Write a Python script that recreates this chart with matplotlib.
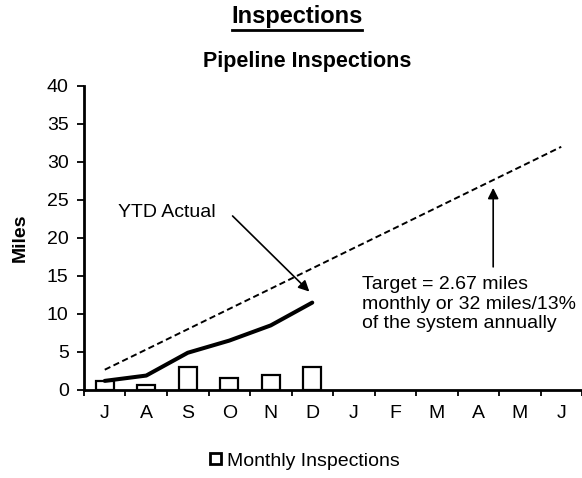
import matplotlib.pyplot as plt
import numpy as np

plt.rcParams['font.family'] = ['Liberation Sans', 'DejaVu Sans']

# data
months = ['J', 'A', 'S', 'O', 'N', 'D', 'J', 'F', 'M', 'A', 'M', 'J']
monthly = [1.2, 0.7, 3.0, 1.6, 2.0, 3.0]
ytd_actual = [1.2, 1.9, 4.9, 6.5, 8.5, 11.5]
target = [2.67, 5.33, 8.0, 10.67, 13.33, 16.0, 18.67, 21.33, 24.0, 26.67, 29.33, 32.0]

fig = plt.figure(figsize=(5.82, 4.78), dpi=100)
ax = fig.add_axes([84 / 582, 88 / 478, 498 / 582, 304 / 478])

x = np.arange(len(months))
ax.bar(x[:len(monthly)], monthly, width=0.43, color='white', edgecolor='black',
       linewidth=1.6, label='Monthly Inspections', zorder=2)
ax.plot(x[:len(ytd_actual)], ytd_actual, color='black', linewidth=2.9,
        solid_capstyle='round', zorder=3)
ax.plot(x, target, color='black', linewidth=1.4, linestyle=(0, (3.2, 1.8)), zorder=3)

ax.set_xlim(-0.5, 11.5)
ax.set_ylim(0, 40)
ax.set_yticks(range(0, 41, 5))
ax.set_xticks(x)
ax.set_xticklabels(months)
ax.set_xticks(np.arange(-0.5, 12, 1), minor=True)
ax.tick_params(axis='x', which='major', length=0, pad=11, labelsize=14)
ax.tick_params(axis='x', which='minor', length=4, width=1.3, direction='out')
ax.tick_params(axis='y', length=5, width=1.3, direction='out', labelsize=14, pad=6)

for s in ['top', 'right']:
    ax.spines[s].set_visible(False)
for s in ['left', 'bottom']:
    ax.spines[s].set_linewidth(2)
    ax.spines[s].set_zorder(4)

ax.set_ylabel('Miles', fontsize=14, fontweight='bold', labelpad=13)

# annotations
ax.text(0.32, 23.3, 'YTD Actual', fontsize=14, va='center', ha='left')
ax.annotate('', xy=(4.93, 12.95), xytext=(3.08, 22.9),
            arrowprops=dict(arrowstyle='-|>', color='black', lw=1.2,
                            mutation_scale=16, shrinkA=0, shrinkB=0))
ax.annotate('', xy=(9.36, 26.6), xytext=(9.36, 16.2),
            arrowprops=dict(arrowstyle='-|>', color='black', lw=1.2,
                            mutation_scale=16, shrinkA=0, shrinkB=0))
ax.text(6.19, 15.0, 'Target = 2.67 miles\nmonthly or 32 miles/13%\nof the system annually',
        fontsize=14, va='top', ha='left', linespacing=1.2)

fig.text(297 / 582, 1 - 16 / 478, 'Inspections', fontsize=17, fontweight='bold',
         ha='center', va='center')
fig.add_artist(plt.Line2D([232 / 582, 362 / 582], [1 - 29.5 / 478, 1 - 29.5 / 478],
                          color='black', linewidth=2))
fig.text(307 / 582, 1 - 62 / 478, 'Pipeline Inspections', fontsize=15.5,
         fontweight='bold', ha='center', va='center')

leg = fig.legend(loc='center', bbox_to_anchor=(305 / 582, 1 - 461 / 478), frameon=False,
                 fontsize=14, handlelength=0.55, handleheight=0.55, handletextpad=0.3)
for h in leg.legend_handles:
    h.set_linewidth(2)

fig.savefig('out.png', dpi=100)
